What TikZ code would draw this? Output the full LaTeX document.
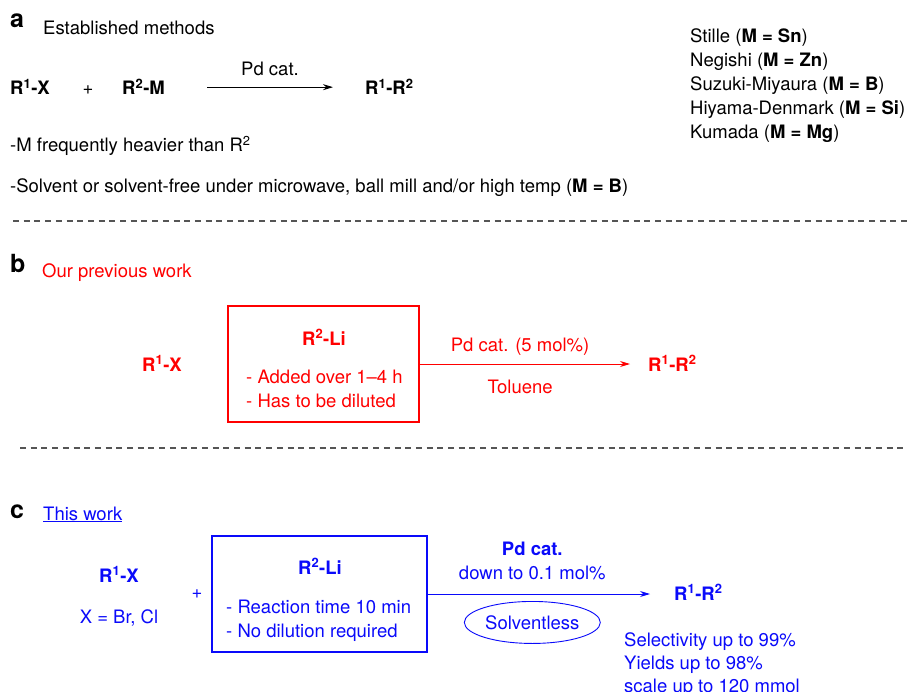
\documentclass[tikz,border=0pt]{standalone}
\usepackage{fontspec}
\setmainfont{TeX Gyre Heros}
\usepackage{xcolor}
\usetikzlibrary{arrows.meta,positioning,shapes.geometric}
\definecolor{prevred}{RGB}{255,0,0}
\definecolor{workblue}{RGB}{10,10,250}
\definecolor{rulegray}{RGB}{85,85,85}
\tikzset{%
	txt/.style     = {inner sep=0pt, anchor=base west},
	panel/.style   = {inner sep=0pt, anchor=base west, font=\fontsize{25}{30}\selectfont\bfseries},
	reagbox/.style = {draw, rectangle, line width=1.2pt, minimum width=191pt, minimum height=116pt},
	rxn/.style     = {line width=0.9pt, -{Stealth[length=10pt,width=6pt]}},
	divider/.style = {rulegray, line width=1.2pt, dash pattern=on 6pt off 4.7pt},
}
\begin{document}
\begin{tikzpicture}[x=1pt,y=-1pt,font=\fontsize{18.5}{24}\selectfont]
	\useasboundingbox (0,0) rectangle (907,692);
	% a: established methods (multi-line nodes sit on their last line)
	\node[panel] (a-lbl) at (10,28) {a};
	\node[txt] (a-title) at (43,35) {Established methods};
	\node[txt] (a-rx) at (10,95) {\textbf{R\textsuperscript{1}-X}};
	\node[txt,anchor=base] (a-plus) at (88,95) {+};
	\node[txt] (a-rm) at (122,95) {\textbf{R\textsuperscript{2}-M}};
	\node[txt] (a-prod) at (365,95) {\textbf{R\textsuperscript{1}-R\textsuperscript{2}}};
	\draw[rxn,shorten <=42pt,shorten >=32pt] (a-rm.east) -- (a-rm.east -| a-prod.west)
		node[pos=0.525,above=11pt,inner sep=0pt] (a-cat) {Pd cat.};
	\node[txt] (a-note1) at (10,152) {-M frequently heavier than R\textsuperscript{2}};
	\node[txt] (a-note2) at (10,193) {-Solvent or solvent-free under microwave, ball mill and/or high temp (\textbf{M = B})};
	\node[txt,align=left] (a-list) at (690,139) {Stille (\textbf{M = Sn})\\Negishi (\textbf{M = Zn})\\Suzuki-Miyaura (\textbf{M = B})\\Hiyama-Denmark (\textbf{M = Si})\\Kumada (\textbf{M = Mg})};
	\draw[divider] (13,221) -- (907,221);
	% b: previous work
	\node[panel] (b-lbl) at (10,273) {b};
	\begin{scope}[prevred]
	\node[txt] (b-title) at (42,278) {Our previous work};
	\node[txt] (b-rx) at (142,371) {\textbf{R\textsuperscript{1}-X}};
	\node[reagbox] (b-box) at (323.5,364) {};
	\node[txt,anchor=base] (b-reag) at (324,345) {\textbf{R\textsuperscript{2}-Li}};
	\node[txt,align=left] (b-note) at (246,407) {- Added over 1--4 h\\- Has to be diluted};
	\node[txt] (b-prod) at (648,371) {\textbf{R\textsuperscript{1}-R\textsuperscript{2}}};
	\draw[rxn,shorten >=18pt] (b-box.east) -- (b-box.east -| b-prod.west)
		node[pos=0.44,above=8pt,inner sep=0pt] (b-cat) {Pd cat. (5 mol\%)}
		node[pos=0.44,below=15.5pt,inner sep=0pt] (b-solv) {Toluene};
	\end{scope}
	\draw[divider] (20,448) -- (907,448);
	% c: this work
	\node[panel] (c-lbl) at (10,518) {c};
	\begin{scope}[workblue]
	\node[txt] (c-title) at (43,520) {\underline{This work}};
	\node[txt,anchor=base] (c-rx) at (119,582) {\textbf{R\textsuperscript{1}-X}};
	\node[txt,anchor=base] (c-hal) at (119,623) {X = Br, Cl};
	\node[txt,anchor=base] (c-plus) at (197,598) {+};
	\node[reagbox,minimum width=215pt] (c-box) at (319.5,594) {};
	\node[txt,anchor=base] (c-reag) at (320,574) {\textbf{R\textsuperscript{2}-Li}};
	\node[txt,align=left] (c-note) at (226,637) {- Reaction time 10 min\\- No dilution required};
	\node[txt] (c-prod) at (674,600) {\textbf{R\textsuperscript{1}-R\textsuperscript{2}}};
	\draw[rxn,shorten >=24pt] (c-box.east) -- (c-box.east -| c-prod.west)
		node[pos=0.425,above=14pt,inner sep=0pt,align=center] (c-cat) {\textbf{Pd cat.}\\down to 0.1 mol\%}
		node[pos=0.425,below=7pt,draw,ellipse,line width=0.9pt,minimum width=136pt,minimum height=42pt,inner sep=0pt] (c-solv) {Solventless};
	\node[txt,align=left,font=\fontsize{18.5}{23}\selectfont] (c-res) at (624,692) {Selectivity up to 99\%\\Yields up to 98\%\\scale up to 120 mmol};
	\end{scope}
\end{tikzpicture}
\end{document}
